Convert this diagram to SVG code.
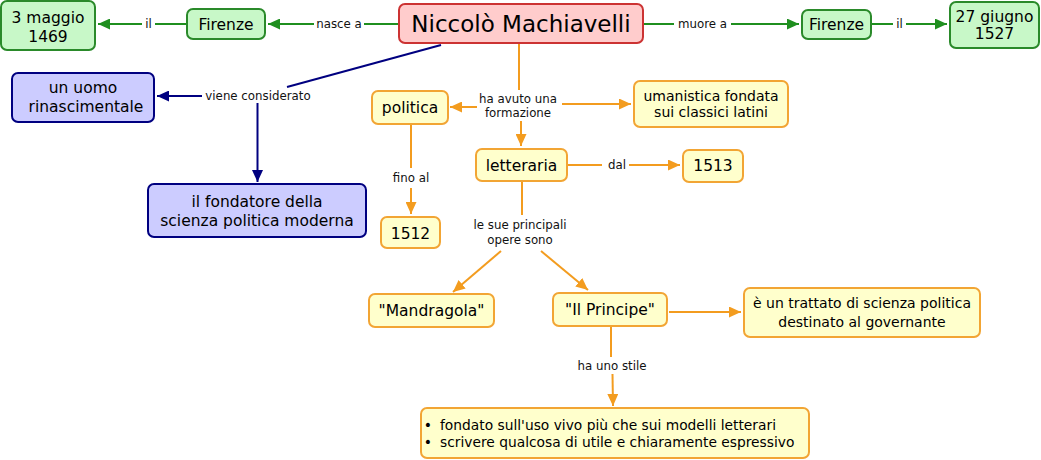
<svg xmlns="http://www.w3.org/2000/svg" width="1041" height="460" viewBox="0 0 1041 460">
<style>
text{font-family:"DejaVu Sans","Liberation Sans",sans-serif;fill:#000;text-anchor:middle}
.n{font-size:15.5px}
.s{font-size:14px}
.t{font-size:23px}
.l{font-size:11.8px;fill:#111}
.g{fill:#c8f8c8;stroke:#2a8a2a;stroke-width:2}
.p{fill:#ffcccc;stroke:#cc3333;stroke-width:2}
.b{fill:#ccccff;stroke:#000080;stroke-width:2}
.y{fill:#ffffcc;stroke:#f2a534;stroke-width:2}
.cg{stroke:#1f8f1f;stroke-width:2;fill:none}
.cb{stroke:#000080;stroke-width:2;fill:none}
.co{stroke:#f39c1f;stroke-width:2;fill:none}
</style>
<defs>
<marker id="ag" markerUnits="userSpaceOnUse" markerWidth="12" markerHeight="11" refX="12" refY="5.5" orient="auto"><path d="M0,0L12,5.5L0,11z" fill="#1f8f1f"/></marker>
<marker id="ab" markerUnits="userSpaceOnUse" markerWidth="12" markerHeight="11" refX="12" refY="5.5" orient="auto"><path d="M0,0L12,5.5L0,11z" fill="#000080"/></marker>
<marker id="ao" markerUnits="userSpaceOnUse" markerWidth="12" markerHeight="11" refX="12" refY="5.5" orient="auto"><path d="M0,0L12,5.5L0,11z" fill="#f39c1f"/></marker>
</defs>
<rect width="1041" height="460" fill="#fff"/>
<g id="connectors">
<path class="cg" d="M399,24H364"/><path class="cg" d="M314,24H268" marker-end="url(#ag)"/>
<path class="cg" d="M187,24H155"/><path class="cg" d="M142,24H98" marker-end="url(#ag)"/>
<path class="cg" d="M643,24H674"/><path class="cg" d="M731,24H799" marker-end="url(#ag)"/>
<path class="cg" d="M871,24H893"/><path class="cg" d="M906,24H947" marker-end="url(#ag)"/>
<path class="cb" d="M441,45L287,87"/>
<path class="cb" d="M202,96H157" marker-end="url(#ab)"/>
<path class="cb" d="M257.5,103V182" marker-end="url(#ab)"/>
<path class="co" d="M519,43V90"/>
<path class="co" d="M477,107H450" marker-end="url(#ao)"/>
<path class="co" d="M562,104H631" marker-end="url(#ao)"/>
<path class="co" d="M521,121V146" marker-end="url(#ao)"/>
<path class="co" d="M567,165H602"/><path class="co" d="M629,165H680" marker-end="url(#ao)"/>
<path class="co" d="M411,124V168"/><path class="co" d="M411,188V214" marker-end="url(#ao)"/>
<path class="co" d="M522,181V215"/>
<path class="co" d="M501,251L453,292" marker-end="url(#ao)"/>
<path class="co" d="M541,251L588,290" marker-end="url(#ao)"/>
<path class="co" d="M669,312H741" marker-end="url(#ao)"/>
<path class="co" d="M611,326V357"/><path class="co" d="M612.5,374L613,406" marker-end="url(#ao)"/>
<text class="l" x="339" y="28">nasce a</text>
<text class="l" x="148.5" y="28">il</text>
<text class="l" x="702.5" y="28">muore a</text>
<text class="l" x="899.5" y="28">il</text>
<text class="l" x="258" y="99.5">viene considerato</text>
<text class="l" x="518" y="102.5">ha avuto una</text>
<text class="l" x="518" y="117">formazione</text>
<text class="l" x="617" y="168.5">dal</text>
<text class="l" x="411" y="181.5">fino al</text>
<text class="l" x="520" y="229">le sue principali</text>
<text class="l" x="520" y="243.5">opere sono</text>
<text class="l" x="612" y="369.5">ha uno stile</text>
</g>
<g id="n-machiavelli"><rect class="p" x="399" y="4" width="244" height="39" rx="6"/><text class="t" x="521" y="32">Niccolò Machiavelli</text></g>
<g id="n-firenze1"><rect class="g" x="187" y="9" width="78" height="30" rx="6"/><text class="n" x="226" y="29.5">Firenze</text></g>
<g id="n-nascita"><rect class="g" x="1" y="1" width="94" height="49" rx="6"/><text class="n" x="48" y="22.5">3 maggio</text><text class="n" x="48" y="41.5">1469</text></g>
<g id="n-firenze2"><rect class="g" x="802" y="10" width="69" height="29" rx="6"/><text class="n" x="836.5" y="30">Firenze</text></g>
<g id="n-morte"><rect class="g" x="950" y="2" width="89" height="46" rx="6"/><text class="n" x="994.5" y="22">27 giugno</text><text class="n" x="994.5" y="38.5">1527</text></g>
<g id="n-uomo"><rect class="b" x="12" y="73" width="142" height="49" rx="6"/><text class="n" x="83" y="93">un uomo</text><text class="n" x="86" y="112">rinascimentale</text></g>
<g id="n-fondatore"><rect class="b" x="148" y="184" width="218" height="53" rx="6"/><text class="n" x="257" y="207">il fondatore della</text><text class="n" x="257" y="226">scienza politica moderna</text></g>
<g id="n-politica"><rect class="y" x="372" y="91" width="76" height="33" rx="6"/><text class="n" x="410" y="113">politica</text></g>
<g id="n-umanistica"><rect class="y" x="634" y="81" width="154" height="46" rx="6"/><text class="s" x="711" y="100.5">umanistica fondata</text><text class="s" x="711" y="117">sui classici latini</text></g>
<g id="n-letteraria"><rect class="y" x="476" y="149" width="91" height="32" rx="6"/><text class="n" x="521.5" y="171">letteraria</text></g>
<g id="n-1513"><rect class="y" x="683" y="150" width="60" height="32" rx="6"/><text class="n" x="713" y="171">1513</text></g>
<g id="n-1512"><rect class="y" x="381" y="217" width="59" height="31" rx="6"/><text class="n" x="410.5" y="238.5">1512</text></g>
<g id="n-mandragola"><rect class="y" x="369" y="294" width="125" height="33" rx="6"/><text class="n" x="431.5" y="316">"Mandragola"</text></g>
<g id="n-principe"><rect class="y" x="553" y="293" width="114" height="33" rx="6"/><text class="n" x="610" y="315">"Il Principe"</text></g>
<g id="n-trattato"><rect class="y" x="744" y="288" width="236" height="49" rx="6"/><text class="s" x="862" y="308">è un trattato di scienza politica</text><text class="s" x="862" y="326.5">destinato al governante</text></g>
<g id="n-stile"><rect class="y" x="421" y="408" width="388" height="50" rx="6"/><text class="s" x="428" y="430">•</text><text class="s" x="428" y="447">•</text><text class="s" x="440" y="430" style="text-anchor:start;font-size:13.8px">fondato sull'uso vivo più che sui modelli letterari</text><text class="s" x="440" y="447" style="text-anchor:start;font-size:13.8px">scrivere qualcosa di utile e chiaramente espressivo</text></g>
</svg>
